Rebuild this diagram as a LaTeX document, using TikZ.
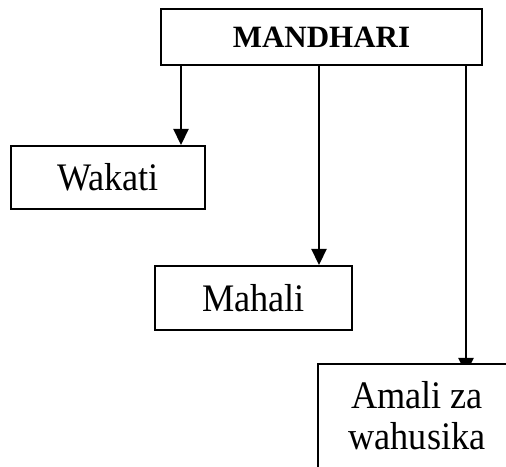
\documentclass[tikz,border=0pt]{standalone}
\usepackage{fontspec}
\setmainfont{Liberation Serif}
\newfontfamily\narrowserif[FakeStretch=0.93]{Liberation Serif}
\usetikzlibrary{arrows.meta}
\begin{document}
\begin{tikzpicture}[x=1pt,y=1pt,
  box/.style={draw,line width=2pt,inner sep=0pt,anchor=center,fill=white},
  arr/.style={line width=2.2pt,-{Triangle[width=15pt,length=16pt]}},
  lbl/.style={font=\narrowserif\fontsize{39}{41}\selectfont}]
\useasboundingbox (0,0) rectangle (506,466);
\coordinate (amalitop) at (466,92);
\coordinate (wa) at (181,0);
\coordinate (ma) at (319,0);
\node[box,minimum width=321pt,minimum height=56pt,font=\fontsize{31}{31}\selectfont\bfseries] (mandhari) at (321.5,429) {MANDHARI};
\node[box,lbl,minimum width=194pt,minimum height=63pt] (wakati) at (108,288.5) {Wakati};
\node[box,lbl,minimum width=197pt,minimum height=64pt] (mahali) at (253.5,168) {Mahali};
\draw[arr] (mandhari.south -| wa) -- (wakati.north -| wa);
\draw[arr] (mandhari.south -| ma) -- (mahali.north -| ma);
\draw[arr] (mandhari.south -| amalitop) -- (amalitop);
\begin{scope}
\clip (0,0) rectangle (506,466);
\filldraw[fill=white,line width=2pt] (318,-10) -- (318,102) -- (530,102) -- (530,-10) -- cycle;
\end{scope}
\node[lbl,align=center,inner sep=0pt] (amali) at (417,50) {Amali za\\wahusika};
\end{tikzpicture}
\end{document}
